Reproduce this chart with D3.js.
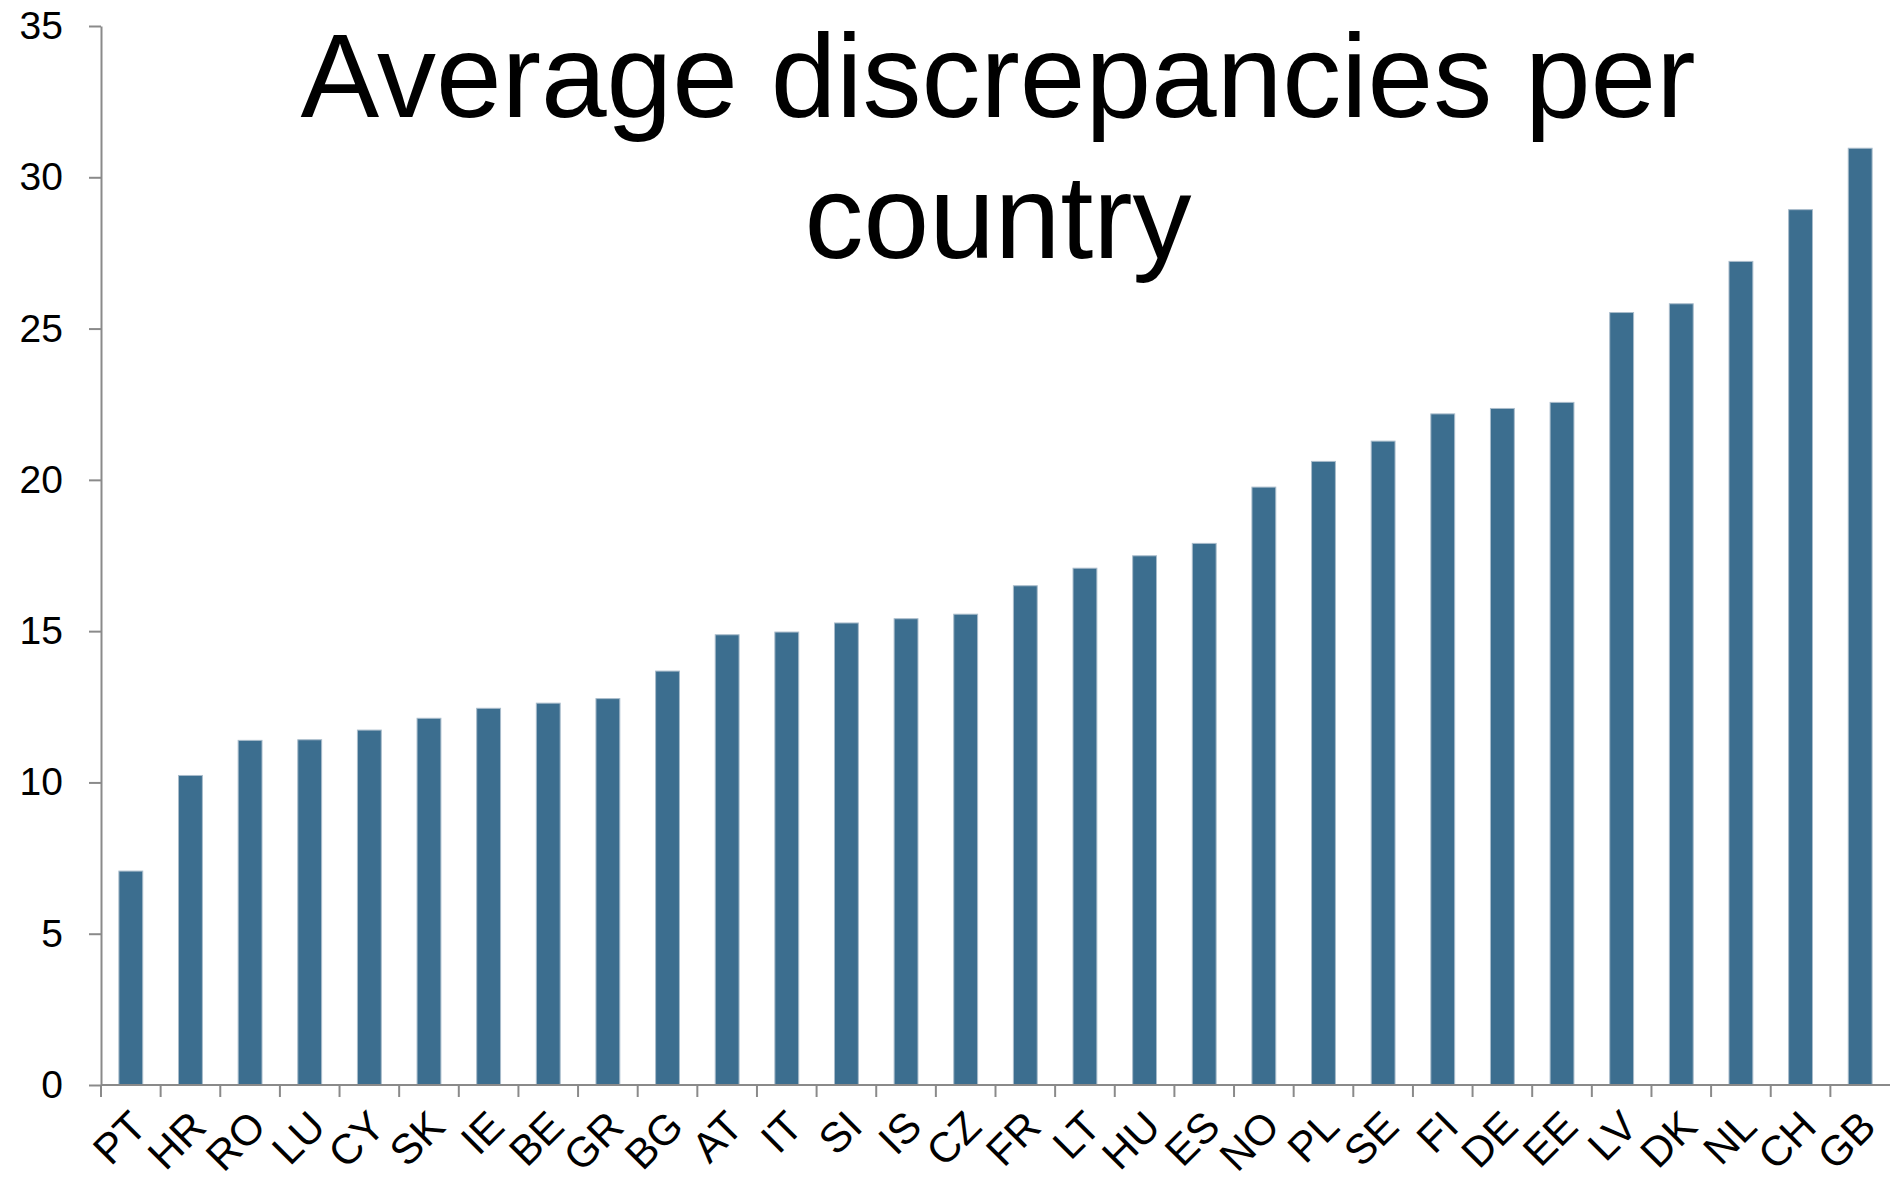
<!DOCTYPE html>
<html>
<head>
<meta charset="utf-8">
<script src="https://cdn.jsdelivr.net/npm/d3@7"></script>
<style>
  html, body { margin: 0; padding: 0; background: #ffffff; }
  svg { display: block; font-family: "Liberation Sans", Arial, sans-serif; }
</style>
</head>
<body>
<svg id="chart" width="1890" height="1185"></svg>
<script>
// Country codes, ordered from fewest to most discrepancies
const countries = ["PT","HR","RO","LU","CY","SK","IE","BE","GR","BG","AT","IT","SI","IS","CZ",
                   "FR","LT","HU","ES","NO","PL","SE","FI","DE","EE","LV","DK","NL","CH","GB"];
// Average discrepancies per country
const discrepancies = [7.07, 10.23, 11.39, 11.41, 11.73, 12.12, 12.45, 12.62, 12.77, 13.68, 14.88, 14.97, 15.27, 15.41, 15.56,
                       16.50, 17.08, 17.49, 17.90, 19.76, 20.61, 21.28, 22.18, 22.36, 22.56, 25.53, 25.82, 27.22, 28.93, 30.96];
const yTicks = [0, 5, 10, 15, 20, 25, 30, 35];
const titleLines = ["Average discrepancies per", "country"];

const svg = d3.select("#chart");
const plotLeft = 101, plotRight = 1890, plotTop = 26, plotBottom = 1085;
const axisColor = "#8a8a8a";

const slot = d3.scaleBand().domain(countries).range([plotLeft, plotRight]).padding(0);
const y = d3.scaleLinear().domain([0, 35]).range([plotBottom, plotTop]);

// bars: 40% of each category slot, centred
const barW = slot.bandwidth() * 0.4;
svg.append("g")
  .selectAll("rect")
  .data(countries)
  .join("rect")
  .attr("x", (d) => slot(d) + (slot.bandwidth() - barW) / 2)
  .attr("y", (d, i) => y(discrepancies[i]))
  .attr("width", barW)
  .attr("height", (d, i) => y(0) - y(discrepancies[i]))
  .attr("fill", "#3c6e8f")
  .attr("stroke", "#a9bccb")
  .attr("stroke-width", 1);

// y axis
const yAxis = svg.append("g")
  .attr("transform", `translate(${plotLeft},0)`)
  .call(d3.axisLeft(y).tickValues(yTicks).tickSize(12).tickPadding(26).tickSizeOuter(0));
yAxis.select(".domain").attr("stroke", axisColor).attr("stroke-width", 2);
yAxis.selectAll(".tick line").attr("stroke", axisColor).attr("stroke-width", 2);
yAxis.selectAll(".tick text")
  .attr("font-size", 39)
  .attr("fill", "#000")
  .style("font-family", "'Liberation Sans', Arial, sans-serif");

// x axis baseline and category boundary ticks
svg.append("line")
  .attr("x1", plotLeft).attr("x2", plotRight)
  .attr("y1", plotBottom).attr("y2", plotBottom)
  .attr("stroke", axisColor).attr("stroke-width", 2);
svg.append("g")
  .selectAll("line")
  .data(countries)
  .join("line")
  .attr("x1", (d) => slot(d)).attr("x2", (d) => slot(d))
  .attr("y1", plotBottom).attr("y2", plotBottom + 12)
  .attr("stroke", axisColor).attr("stroke-width", 2);

// rotated category labels
svg.append("g")
  .selectAll("text")
  .data(countries)
  .join("text")
  .attr("transform", (d) => `translate(${slot(d) + slot.bandwidth() / 2 + 18},${plotBottom + 44}) rotate(-45)`)
  .attr("text-anchor", "end")
  .attr("font-size", 42)
  .attr("fill", "#000")
  .text((d) => d);

// title
svg.append("g")
  .selectAll("text")
  .data(titleLines)
  .join("text")
  .attr("x", 998)
  .attr("y", (d, i) => 117 + i * 141)
  .attr("text-anchor", "middle")
  .attr("font-size", 118)
  .attr("fill", "#000")
  .text((d) => d);
</script>
</body>
</html>
